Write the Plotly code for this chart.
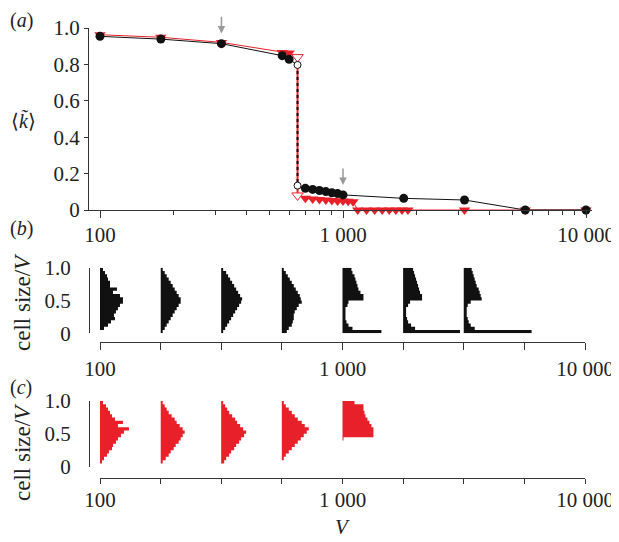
import numpy as np
import plotly.graph_objects as go

W, H = 619, 542
PAGE_OFFSET = 8  # the page body margin shifts the figure by this many pixels

# ---------------- Panel (a) data ----------------
V_up_black = [100, 178, 316, 562, 600, 650]
k_up_black = [0.954, 0.939, 0.914, 0.848, 0.828, 0.797]
V_low_black = [650, 700, 750, 800, 850, 900, 950, 1000, 1778, 3162, 5623, 10000]
k_low_black = [0.134, 0.119, 0.113, 0.107, 0.101, 0.095, 0.090, 0.083, 0.064, 0.055, 0.0, 0.0]

V_up_red = [100, 178, 316, 562, 600, 650]
k_up_red = [0.963, 0.949, 0.921, 0.866, 0.862, 0.840]
V_low_red = [650, 700, 750, 800, 850, 900, 950, 1000, 1050, 1100,
             1150, 1250, 1350, 1450, 1550, 1650, 1750, 1850, 3162, 5623, 10000]
k_low_red = [0.080, 0.065, 0.060, 0.058, 0.055, 0.052, 0.050, 0.050, 0.048, 0.045,
             0, 0, 0, 0, 0, 0, 0, 0, 0, 0, 0]

arrow_V = [316, 1000]
arrow_tip = [0.97, 0.137]
arrow_tail = [1.07, 0.236]

ya_ticks = [0, 0.2, 0.4, 0.6, 0.8, 1.0]
ya_ticktext = ["0", "0.2", "0.4", "0.6", "0.8", "1.0"]
x_major = [100, 1000, 10000]
x_major_text = ["100", "1 000", "10 000"]
x_minor = [90, 200, 300, 400, 500, 600, 700, 800, 900,
           2000, 3000, 4000, 5000, 6000, 7000, 8000, 9000]
x_quarter = [100, 177.8, 316.2, 562.3, 1000, 1778, 3162, 5623, 10000]
x_quarter_text = ["100", "", "", "", "1 000", "", "", "", "10 000"]

# ---------------- Panels (b), (c): cell size histograms ----------------
# relative frequencies per bin of cell size/V (20 bins, bottom -> top)
bin_edges = [i / 20 for i in range(21)]
hist_V_b = [100, 178, 316, 562, 1000, 1778, 3162]
hist_b = [
    [0, 4, 8, 11, 15, 14, 16, 18, 20, 23, 23, 20, 13, 17, 10, 10, 8, 7, 5, 3],
    [2, 4, 6, 8, 10, 12, 14, 16, 18, 20, 20, 18, 16, 14, 12, 10, 8, 6, 4, 2],
    [2, 4, 6, 8, 10, 12, 14, 16, 18, 20, 21, 19, 17, 15, 13, 11, 9, 7, 5, 2],
    [5, 7, 10, 11, 12, 12, 13, 15, 17, 20, 19, 18, 16, 14, 12, 10, 8, 6, 4, 2],
    [39, 10, 6, 4, 3, 3, 3, 3, 5, 6, 21, 21, 18, 16, 15, 14, 13, 12, 10, 9],
    [57, 12, 8, 5, 4, 3, 3, 3, 5, 7, 19, 19, 17, 16, 15, 14, 13, 12, 11, 10],
    [68, 11, 7, 5, 4, 3, 3, 3, 4, 7, 18, 17, 16, 15, 13, 12, 11, 10, 9, 8],
]
hist_V_c = [100, 178, 316, 562, 1000]
hist_c = [
    [0, 2, 4, 7, 9, 12, 13, 16, 18, 21, 24, 29, 18, 23, 15, 12, 10, 8, 6, 3],
    [0, 2, 5, 8, 10, 13, 15, 18, 20, 22, 24, 22, 19, 16, 14, 11, 8, 6, 4, 2],
    [0, 3, 5, 8, 10, 13, 15, 18, 20, 23, 25, 22, 19, 16, 14, 11, 8, 6, 4, 2],
    [0, 0, 2, 4, 7, 10, 13, 16, 19, 22, 25, 27, 23, 20, 16, 13, 10, 7, 4, 2],
    [0, 0, 0, 0, 0, 0, 0, 0, 1, 31, 31, 31, 29, 27, 25, 23, 22, 21, 21, 12],
]
FREQ_SCALE = 1 / 243.0  # decades of V per frequency unit

BLACK = "#111111"
RED = "#e8202a"
AXC = "#333333"
FONT = "Liberation Serif"
FS = 21


def px_x(p):
    return (p - PAGE_OFFSET) / W


def px_y(p):
    return 1 - (p - PAGE_OFFSET) / H


def hist_poly(V, freqs):
    xs, ys = [V], [0.0]
    for i, f in enumerate(freqs):
        xr = V * 10 ** (f * FREQ_SCALE)
        xs += [xr, xr]
        ys += [bin_edges[i], bin_edges[i + 1]]
    xs.append(V)
    ys.append(1.0)
    xs.append(V)
    ys.append(0.0)
    return xs, ys


fig = go.Figure()

for V, fr in zip(hist_V_b, hist_b):
    xs, ys = hist_poly(V, fr)
    fig.add_trace(go.Scatter(x=xs, y=ys, xaxis="x2", yaxis="y2", mode="lines",
                             fill="toself", fillcolor=BLACK, line=dict(width=0, color=BLACK),
                             hoverinfo="skip", showlegend=False))
for V, fr in zip(hist_V_c, hist_c):
    xs, ys = hist_poly(V, fr)
    fig.add_trace(go.Scatter(x=xs, y=ys, xaxis="x3", yaxis="y3", mode="lines",
                             fill="toself", fillcolor=RED, line=dict(width=0, color=RED),
                             hoverinfo="skip", showlegend=False))

# red vertical jump line
fig.add_trace(go.Scatter(x=[V_up_red[-1], V_low_red[0]], y=[k_up_red[-1], k_low_red[0]],
                         mode="lines", line=dict(color=RED, width=2), showlegend=False,
                         cliponaxis=False))
# red branches
fig.add_trace(go.Scatter(x=V_up_red, y=k_up_red, mode="lines",
                         line=dict(color=RED, width=1), showlegend=False, cliponaxis=False))
fig.add_trace(go.Scatter(x=V_low_red, y=k_low_red, mode="lines",
                         line=dict(color=RED, width=1), showlegend=False, cliponaxis=False))
fig.add_trace(go.Scatter(x=V_up_red[:-1] + V_low_red[1:], y=k_up_red[:-1] + k_low_red[1:],
                         mode="markers", marker=dict(symbol="triangle-down", size=10, color=RED,
                                                     line=dict(width=0)),
                         showlegend=False, cliponaxis=False))
fig.add_trace(go.Scatter(x=[V_up_red[-1], V_low_red[0]], y=[k_up_red[-1], k_low_red[0]],
                         mode="markers", marker=dict(symbol="triangle-down", size=10, color="white",
                                                     line=dict(width=1, color=RED)),
                         showlegend=False, cliponaxis=False))
# black branches
fig.add_trace(go.Scatter(x=V_up_black, y=k_up_black, mode="lines",
                         line=dict(color=BLACK, width=1), showlegend=False, cliponaxis=False))
fig.add_trace(go.Scatter(x=V_low_black, y=k_low_black, mode="lines",
                         line=dict(color=BLACK, width=1), showlegend=False, cliponaxis=False))
fig.add_trace(go.Scatter(x=[V_up_black[-1], V_low_black[0]], y=[k_up_black[-1], k_low_black[0]],
                         mode="lines", line=dict(color=BLACK, width=2, dash="3px,3px"),
                         showlegend=False, cliponaxis=False))
fig.add_trace(go.Scatter(x=V_up_black[:-1] + V_low_black[1:], y=k_up_black[:-1] + k_low_black[1:],
                         mode="markers", marker=dict(symbol="circle", size=9, color=BLACK,
                                                     line=dict(width=0)),
                         showlegend=False, cliponaxis=False))
fig.add_trace(go.Scatter(x=[V_up_black[-1], V_low_black[0]], y=[k_up_black[-1], k_low_black[0]],
                         mode="markers", marker=dict(symbol="circle", size=7, color="white",
                                                     line=dict(width=1, color=BLACK)),
                         showlegend=False, cliponaxis=False))

tickfont = dict(family=FONT, size=FS, color="#222")

common_axis = dict(showgrid=False, zeroline=False, showline=True, linecolor=AXC, linewidth=1,
                   tickcolor=AXC, tickwidth=1, tickfont=tickfont, automargin=False)

fig.update_layout(
    width=W, height=H, margin=dict(l=0, r=0, t=0, b=0, pad=0, autoexpand=False),
    paper_bgcolor="white", plot_bgcolor="white", showlegend=False,
    font=dict(family=FONT),
    xaxis=dict(common_axis, type="log", domain=[px_x(89), px_x(592)],
               range=[2 + (89 - 100) / 243, 2 + (592 - 100) / 243], anchor="y",
               tickvals=x_major, ticktext=x_major_text, ticks="outside", ticklen=7,
               ticklabelstandoff=-1,
               minor=dict(tickvals=x_minor, ticks="outside", ticklen=4, tickcolor=AXC)),
    yaxis=dict(common_axis, domain=[px_y(210), px_y(28)], range=[0, 1], anchor="x",
               tickvals=ya_ticks, ticktext=ya_ticktext, ticks="outside", ticklen=4),
    xaxis2=dict(common_axis, type="log", domain=[px_x(100), px_x(585)], range=[2, 4],
                anchor="free", position=px_y(342.3), tickvals=x_quarter, ticktext=x_quarter_text,
                ticks="outside", ticklen=7, ticklabelstandoff=0),
    yaxis2=dict(common_axis, domain=[px_y(333.3), px_y(267.7)], range=[0, 1],
                anchor="free", position=px_x(89), tickvals=[0, 0.5, 1], ticktext=["0", "0.5", "1.0"],
                ticks="", ticklabelstandoff=14),
    xaxis3=dict(common_axis, type="log", domain=[px_x(100), px_x(585)], range=[2, 4],
                anchor="free", position=px_y(478.3), tickvals=x_quarter, ticktext=x_quarter_text,
                ticks="outside", ticklen=5, ticklabelstandoff=-3),
    yaxis3=dict(common_axis, domain=[px_y(466.7), px_y(401)], range=[0, 1],
                anchor="free", position=px_x(89), tickvals=[0, 0.5, 1], ticktext=["0", "0.5", "1.0"],
                ticks="", ticklabelstandoff=14),
)

# arrows
for V, tip, tail in zip(arrow_V, arrow_tip, arrow_tail):
    fig.add_annotation(x=np.log10(V), y=tip, ax=np.log10(V), ay=tail, xref="x", yref="y",
                       axref="x", ayref="y", text="", showarrow=True, arrowhead=2,
                       arrowsize=1, arrowwidth=1.5, arrowcolor="#999999")

lab = dict(family=FONT, size=20, color="#222")
texts = [
    ("(<i>a</i>)", 21, 20, 0, 20),
    ("(<i>b</i>)", 21, 229, 0, 20),
    ("(<i>c</i>)", 21, 387, 0, 20),
    ("\u27e8<i>k\u0303</i>\u27e9", 23, 121, 0, 20),
    ("cell size/<i>V</i>", 22, 302, -90, 23),
    ("cell size/<i>V</i>", 22, 452, -90, 23),
    ("<i>V</i>", 342, 527, 0, 21),
]
for t, x, y, ang, fs in texts:
    fig.add_annotation(text=t, x=px_x(x), y=px_y(y), xref="paper", yref="paper",
                       showarrow=False, xanchor="center", yanchor="middle", textangle=ang,
                       font=dict(lab, size=fs))

fig.write_html("out.html")
